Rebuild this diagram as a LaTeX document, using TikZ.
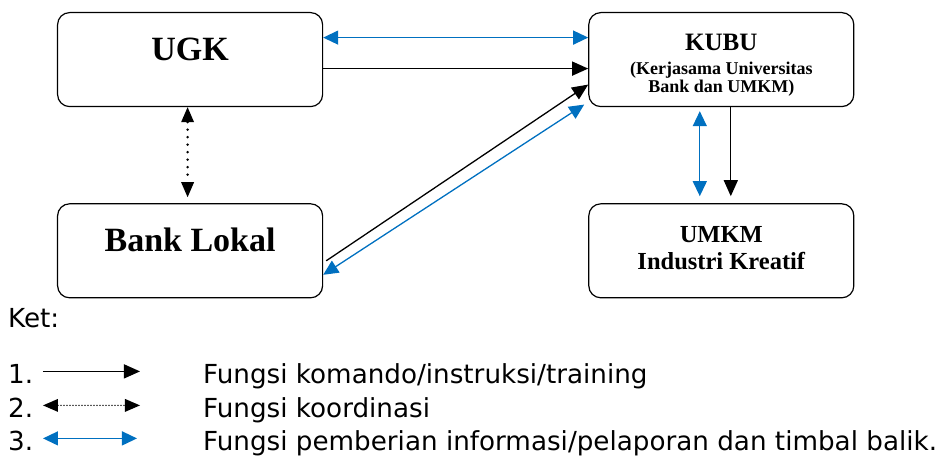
\documentclass[tikz,border=0pt]{standalone}
\usepackage{fontspec}
\setmainfont{Liberation Serif}
\newfontfamily\ketfont{DejaVu Sans}
\usetikzlibrary{arrows.meta,positioning,calc}
\definecolor{InfoBlue}{HTML}{0070C0}

\begin{document}
\begin{tikzpicture}[
  box/.style={draw,line width=1.2pt,rounded corners=12pt,minimum width=265pt,minimum height=94pt,align=center,inner sep=0pt},
  cmd/.style={-{Triangle[length=16pt,width=14pt]},line width=1.3pt},
  coord/.style={{Triangle[length=15pt,width=13pt,line width=0pt]}-{Triangle[length=15pt,width=13pt,line width=0pt]},line width=2.8pt,dash pattern=on 0pt off 7.5pt,line cap=round},
  info/.style={{Triangle[length=15pt,width=14pt]}-{Triangle[length=15pt,width=14pt]},draw=InfoBlue,line width=1.3pt},
  ket/.style={font=\ketfont\fontsize{26.2}{30}\selectfont,inner sep=0pt,anchor=base west}
]
\node[box,font=\bfseries\fontsize{34}{38}\selectfont,text height=22pt,text depth=20pt] (ugk) {UGK};
\useasboundingbox ([xshift=-57pt,yshift=12pt]ugk.north west) rectangle ++(944pt,-460pt);
\node[box,right=265pt of ugk,font=\bfseries\fontsize{18}{18}\selectfont] (kubu) {{\fontsize{25}{24}\selectfont\rule{0pt}{28pt}KUBU}\\[6pt](Kerjasama Universitas\\Bank dan UMKM)};
\node[box,below=96pt of ugk,font=\bfseries\fontsize{34}{38}\selectfont,text height=22pt,text depth=20pt] (bank) {Bank Lokal};
\node[box,below=96pt of kubu,font=\bfseries\fontsize{24.5}{27}\selectfont] (umkm) {UMKM\\Industri Kreatif\rule[-6pt]{0pt}{6pt}};
% connectors
\draw[info] ([yshift=22pt]ugk.east) -- ([yshift=22pt]kubu.west);
\draw[cmd] ([yshift=-9pt]ugk.east) -- ([yshift=-9pt]kubu.west);
\draw[cmd] ([xshift=3pt,yshift=-10pt]bank.east) -- ([yshift=-25pt]kubu.west);
\draw[info] ([xshift=-4pt,yshift=-45pt]kubu.west) -- ([yshift=-24pt]bank.east);
\draw[coord,shorten >=6pt] ([xshift=-2.5pt]ugk.south) -- ([xshift=-2.5pt]bank.north);
\draw[info,shorten <=4pt,shorten >=7pt] ([xshift=-21.5pt]kubu.south) -- ([xshift=-21.5pt]umkm.north);
\draw[cmd,shorten >=7pt] ([xshift=9.5pt]kubu.south) -- ([xshift=9.5pt]umkm.north);
% legend
\node[ket] (ket) at ([xshift=-49pt,yshift=-29pt]bank.south west) {Ket:};
\node[ket] (n1) at ([yshift=-56pt]ket.base west) {1.};
\node[ket] (n2) at ([yshift=-90pt]ket.base west) {2.};
\node[ket] (n3) at ([yshift=-123pt]ket.base west) {3.};
\node[ket] (f1) at ([xshift=195pt]n1.base west) {Fungsi komando/instruksi/training};
\node[ket] (f2) at ([xshift=195pt]n2.base west) {Fungsi koordinasi};
\node[ket] (f3) at ([xshift=195pt]n3.base west) {Fungsi pemberian informasi/pelaporan dan timbal balik.};
\coordinate (a1) at ([xshift=35pt,yshift=12pt]n1.base west);
\coordinate (b1) at ([xshift=132pt,yshift=12pt]n1.base west);
\coordinate (a2) at ([xshift=35pt,yshift=12pt]n2.base west);
\coordinate (b2) at ([xshift=132pt,yshift=12pt]n2.base west);
\coordinate (a3) at ([xshift=35pt,yshift=12pt]n3.base west);
\coordinate (b3) at ([xshift=129pt,yshift=12pt]n3.base west);
\draw[cmd] (a1) -- (b1);
\draw[coord,line width=1.6pt,dash pattern=on 0pt off 3pt] (a2) -- (b2);
\draw[info] (a3) -- (b3);
\end{tikzpicture}
\end{document}
